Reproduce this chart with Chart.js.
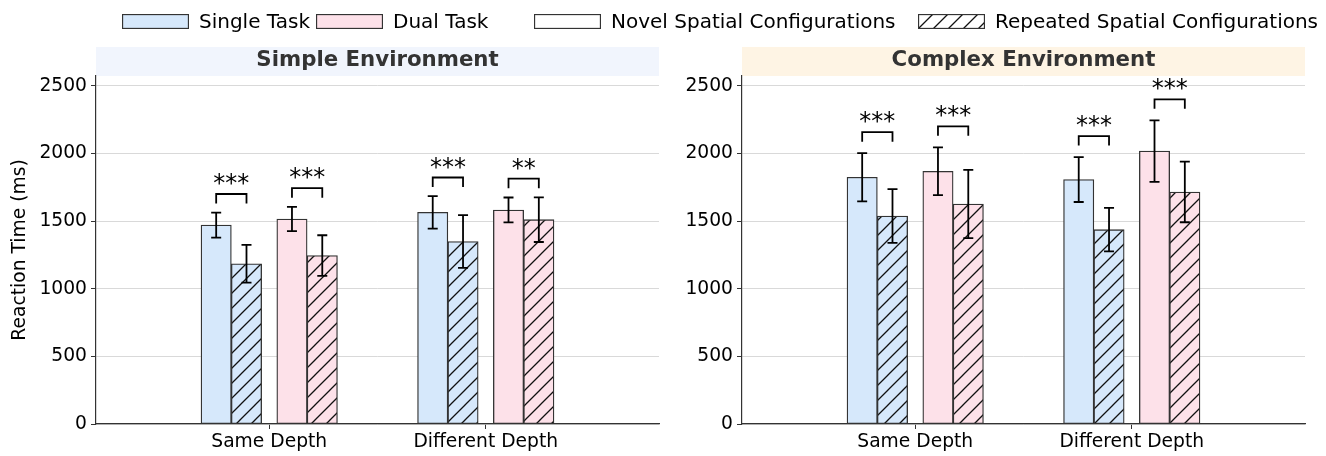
<!DOCTYPE html>
<html>
<head>
<meta charset="utf-8">
<script src="https://cdn.jsdelivr.net/npm/chart.js@4.4.1/dist/chart.umd.min.js"></script>
<style>
    html, body { margin: 0; padding: 0; background: #fff; }
    #wrap { position: relative; width: 1326px; height: 456px; overflow: hidden; font-family: 'DejaVu Sans', sans-serif; }
    canvas.plot { position: absolute; top: 0; }
    .item { position: absolute; top: 8px; height: 26px; display: flex; align-items: center; font-size: 20px; color: #000; white-space: nowrap; }
    .item canvas { display: block; margin-right: 10px; }
</style>
</head>
<body>
<div id="wrap">
    <canvas id="left" class="plot" width="663" height="456" style="left:0"></canvas>
    <canvas id="right" class="plot" width="663" height="456" style="left:663px"></canvas>
</div>
<script>
const categories = ['Same Depth', 'Different Depth'];
const yTicks = [0, 500, 1000, 1500, 2000, 2500];
const legendLabels = ['Single Task', 'Dual Task', 'Novel Spatial Configurations', 'Repeated Spatial Configurations'];

// Simple environment (ms)
const simpleSingleNovel = [1471, 1565];
const simpleSingleNovelErr = [92, 120];
const simpleSingleRepeated = [1185, 1350];
const simpleSingleRepeatedErr = [140, 195];
const simpleDualNovel = [1516, 1583];
const simpleDualNovelErr = [90, 92];
const simpleDualRepeated = [1246, 1511];
const simpleDualRepeatedErr = [150, 165];
// same/single, same/dual, different/single, different/dual
const simpleStars = ['***', '***', '***', '**'];

// Complex environment (ms)
const complexSingleNovel = [1825, 1808];
const complexSingleNovelErr = [178, 166];
const complexSingleRepeated = [1538, 1437];
const complexSingleRepeatedErr = [199, 161];
const complexDualNovel = [1869, 2018];
const complexDualNovelErr = [177, 228];
const complexDualRepeated = [1627, 1716];
const complexDualRepeatedErr = [252, 224];
const complexStars = ['***', '***', '***', '***'];

Chart.defaults.font.family = "'DejaVu Sans', sans-serif";
Chart.defaults.color = '#000';

const singleColor = '#d6e8fb';
const dualColor = '#fde1e9';
const edge = '#333';
const offsets = [-0.245, -0.105, 0.105, 0.245];

function hatch(bg) {
    const s = 15;
    const c = document.createElement('canvas');
    c.width = s;
    c.height = s;
    const g = c.getContext('2d');
    g.fillStyle = bg;
    g.fillRect(0, 0, s, s);
    g.strokeStyle = '#111';
    g.lineWidth = 1.3;
    g.beginPath();
    g.moveTo(0, s); g.lineTo(s, 0);
    g.moveTo(-2, 2); g.lineTo(2, -2);
    g.moveTo(s - 2, s + 2); g.lineTo(s + 2, s - 2);
    g.stroke();
    return g.createPattern(c, 'repeat');
}

function bars(values, errs, slot, fill) {
    return {
        data: values.map((v, i) => ({ x: i + offsets[slot], y: v })),
        errors: errs,
        backgroundColor: fill,
        borderColor: edge,
        borderWidth: 1.3,
        borderSkipped: false,
        grouped: false,
        barPercentage: 1,
        categoryPercentage: 1
    };
}

const errorBars = {
    id: 'errorBars',
    afterDatasetsDraw(chart) {
        const ctx = chart.ctx;
        const y = chart.scales.y;
        ctx.save();
        ctx.strokeStyle = '#000';
        ctx.lineWidth = 1.8;
        chart.data.datasets.forEach((ds, d) => {
            chart.getDatasetMeta(d).data.forEach((bar, i) => {
                const v = ds.data[i].y, e = ds.errors[i];
                const top = y.getPixelForValue(v + e), bot = y.getPixelForValue(v - e);
                ctx.beginPath();
                ctx.moveTo(bar.x, top); ctx.lineTo(bar.x, bot);
                ctx.moveTo(bar.x - 5, top); ctx.lineTo(bar.x + 5, top);
                ctx.moveTo(bar.x - 5, bot); ctx.lineTo(bar.x + 5, bot);
                ctx.stroke();
            });
        });
        ctx.restore();
    }
};

const brackets = {
    id: 'brackets',
    afterDatasetsDraw(chart, args, opts) {
        const ctx = chart.ctx;
        const y = chart.scales.y;
        const ds = chart.data.datasets;
        ctx.save();
        ctx.strokeStyle = '#000';
        ctx.fillStyle = '#000';
        ctx.lineWidth = 1.8;
        ctx.font = '24px "DejaVu Sans"';
        ctx.textAlign = 'center';
        ctx.textBaseline = 'alphabetic';
        categories.forEach((c, i) => {
            [0, 2].forEach((a, k) => {
                const b = a + 1;
                const x1 = chart.getDatasetMeta(a).data[i].x;
                const x2 = chart.getDatasetMeta(b).data[i].x;
                const m = Math.max(ds[a].data[i].y + ds[a].errors[i], ds[b].data[i].y + ds[b].errors[i]);
                const yb = y.getPixelForValue(m + opts.gap);
                const yt = y.getPixelForValue(m + opts.gap + 70);
                ctx.beginPath();
                ctx.moveTo(x1, yb); ctx.lineTo(x1, yt); ctx.lineTo(x2, yt); ctx.lineTo(x2, yb);
                ctx.stroke();
                ctx.fillText(opts.stars[i * 2 + k], (x1 + x2) / 2, yt - 3);
            });
        });
        ctx.restore();
    }
};

const titleBox = {
    id: 'titleBox',
    beforeDraw(chart, args, opts) {
        const a = chart.chartArea;
        const ctx = chart.ctx;
        ctx.save();
        ctx.fillStyle = opts.color;
        ctx.fillRect(a.left, a.top - 29, a.right - a.left, 29);
        ctx.restore();
    }
};

function makeChart(id, title, bg, series, stars, gap, axisWidth, padRight, showYTitle) {
    const ctx = document.getElementById(id);
    return new Chart(ctx, {
        type: 'bar',
        data: {
            datasets: [
                bars(series[0], series[1], 0, singleColor),
                bars(series[2], series[3], 1, hatch(singleColor)),
                bars(series[4], series[5], 2, dualColor),
                bars(series[6], series[7], 3, hatch(dualColor))
            ]
        },
        options: {
            responsive: false,
            animation: false,
            devicePixelRatio: 1,
            layout: { padding: { top: 46, right: padRight, bottom: 0, left: 0 } },
            scales: {
                x: {
                    type: 'linear',
                    min: -0.8,
                    max: 1.8,
                    offset: false,
                    grid: { display: true, drawOnChartArea: false, offset: false, tickLength: 5, tickColor: edge, tickWidth: 1 },
                    border: { display: true, color: edge, width: 1.2 },
                    afterBuildTicks: (axis) => { axis.ticks = categories.map((c, i) => ({ value: i })); },
                    afterFit: (axis) => { axis.height = 32; },
                    ticks: {
                        font: { size: 18.7 },
                        color: '#000',
                        padding: 2,
                        maxRotation: 0,
                        autoSkip: false,
                        callback: (v) => categories[v]
                    }
                },
                y: {
                    min: 0,
                    max: 2574,
                    afterBuildTicks: (axis) => { axis.ticks = yTicks.map(v => ({ value: v })); },
                    afterFit: (axis) => { axis.width = axisWidth; },
                    grid: {
                        color: '#cfcfcf',
                        lineWidth: 0.8,
                        borderDash: [4, 2],
                        tickLength: 5,
                        tickColor: edge,
                        tickWidth: 1,
                        tickBorderDash: [1, 0]
                    },
                    border: { display: true, color: edge, width: 1.2 },
                    ticks: { font: { size: 18.7 }, color: '#000', padding: 4, callback: (v) => String(v) },
                    title: {
                        display: showYTitle,
                        text: 'Reaction Time (ms)',
                        font: { size: 18.7 },
                        color: '#000',
                        padding: { top: 9, bottom: 0 }
                    }
                }
            },
            plugins: {
                legend: { display: false },
                tooltip: { enabled: false },
                title: {
                    display: true,
                    text: title,
                    fullSize: false,
                    color: '#333',
                    font: { size: 21.3, weight: 'bold' },
                    padding: { top: 2, bottom: 2.4 }
                },
                titleBox: { color: bg },
                brackets: { stars: stars, gap: gap }
            }
        },
        plugins: [titleBox, errorBars, brackets]
    });
}

makeChart('left', 'Simple Environment', '#f1f5fd',
    [simpleSingleNovel, simpleSingleNovelErr, simpleSingleRepeated, simpleSingleRepeatedErr,
     simpleDualNovel, simpleDualNovelErr, simpleDualRepeated, simpleDualRepeatedErr],
    simpleStars, 68, 96, 4, true);

makeChart('right', 'Complex Environment', '#fef4e4',
    [complexSingleNovel, complexSingleNovelErr, complexSingleRepeated, complexSingleRepeatedErr,
     complexDualNovel, complexDualNovelErr, complexDualRepeated, complexDualRepeatedErr],
    complexStars, 85, 79, 21, false);

// legend across the top
const legendLeft = [122, 316, 534, 918];
const legendFills = [singleColor, dualColor, '#fff', '#fff'];
const wrap = document.getElementById('wrap');
legendLabels.forEach((label, i) => {
    const item = document.createElement('div');
    item.className = 'item';
    item.style.left = legendLeft[i] + 'px';
    const sw = document.createElement('canvas');
    sw.width = 67;
    sw.height = 15;
    const g = sw.getContext('2d');
    g.fillStyle = i === 3 ? hatch('#fff') : legendFills[i];
    g.fillRect(0, 0, 67, 15);
    g.strokeStyle = edge;
    g.lineWidth = 1.3;
    g.strokeRect(0.5, 0.5, 66, 14);
    item.appendChild(sw);
    const t = document.createElement('span');
    t.textContent = label;
    item.appendChild(t);
    wrap.appendChild(item);
});
</script>
</body>
</html>
